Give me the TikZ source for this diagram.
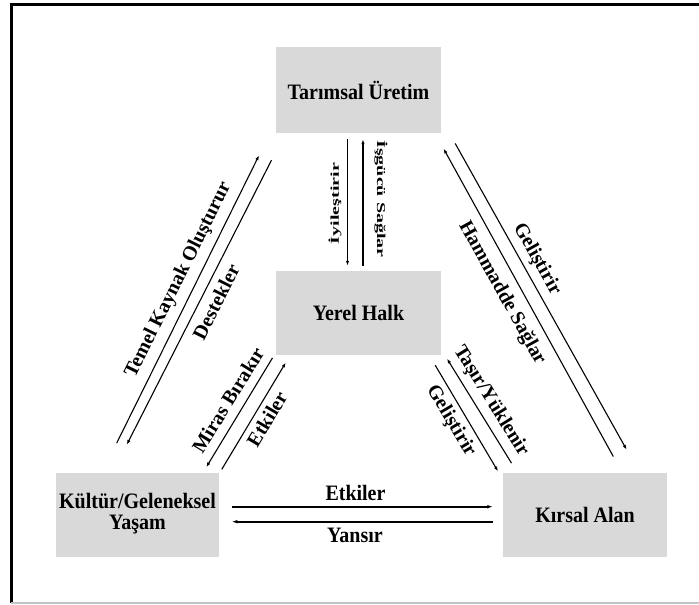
\documentclass[tikz,border=0pt]{standalone}
\usepackage{fontspec}
\usepackage{graphicx}
\setmainfont{Liberation Serif}
\usetikzlibrary{arrows.meta,calc}
\definecolor{boxgray}{HTML}{D9D9D9}
\definecolor{framegray}{HTML}{C4C4C4}
\newcommand{\hx}[1]{\scalebox{1}[1.1]{#1}}
\newcommand{\vx}[1]{\scalebox{1}[0.6]{#1}}
\tikzset{
  box/.style={fill=boxgray, inner sep=0pt, align=center,
    font=\fontsize{20}{20}\selectfont\bfseries},
  lbl/.style={inner sep=0pt, font=\fontsize{20}{20}\selectfont\bfseries},
  conn/.style={line width=1.1pt, -{Latex[length=5pt,width=3.4pt]}},
  hconn/.style={line width=2pt, -{Latex[length=5.5pt,width=3.8pt]}},
}
\begin{document}
\begin{tikzpicture}[x=1pt,y=1pt]
\useasboundingbox (0,0) rectangle (699,-605);
% frame
\draw[line width=2.6pt] (699,-4.7) -- (11.3,-4.7) -- (11.3,-603);
\draw[framegray, line width=1.5pt] (11.3,-603) -- (699,-603);

% boxes
\node[box, minimum width=165pt, minimum height=86pt] (tar) at (358.5,-90) {\hx{Tarımsal Üretim}};
\node[box, minimum width=165pt, minimum height=84pt] (yer) at (358.5,-313) {\hx{Yerel Halk}};
\node[box, minimum width=163pt, minimum height=84pt] (kul) at (137.5,-515)
  {\hx{\begin{tabular}{@{}c@{}}Kültür/Geleneksel\\[-1pt]Yaşam\end{tabular}}};
\node[box, minimum width=164pt, minimum height=84pt] (kir) at (585,-515) {\hx{Kırsal Alan}};

% vertical pair
\draw[conn] ($(tar.south)+(-11,-6)$) -- ($(yer.north)+(-11,5)$);
\draw[conn] ($(yer.north)+(4.5,5)$) -- ($(tar.south)+(4.5,-6)$);
% left outer pair
\draw[conn] ($(kul.north)+(-20.8,29.7)$) -- ($(tar.south west)+(-16.7,-22)$);
\draw[conn] ($(tar.south west)+(-4.3,-27)$) -- ($(kul.north)+(-10.8,28)$);
% left inner pair
\draw[conn] ($(yer.south west)+(-3.3,-2.7)$) -- ($(kul.north east)+(-13,5.5)$);
\draw[conn] ($(kul.north east)+(2.6,3.5)$) -- ($(yer.south west)+(10,-7.3)$);
% right inner pair
\draw[conn] ($(yer.south east)+(-6,-10)$) -- ($(kir.north west)+(-4.7,1.3)$);
\draw[conn] ($(kir.north west)+(8.7,9.7)$) -- ($(yer.south east)+(5.7,-3.3)$);
% right outer pair
\draw[conn] ($(kir.north)+(28.3,16.3)$) -- ($(tar.south east)+(2.3,-15.3)$);
\draw[conn] ($(tar.south east)+(14,-10.3)$) -- ($(kir.north)+(41.7,23)$);
% horizontal pair
\draw[hconn] ($(kul.east)+(12.7,8.3)$) -- ($(kir.west)+(-10,8.3)$);
\draw[hconn] ($(kir.west)+(-10,-6.7)$) -- ($(kul.east)+(12.7,-6.7)$);

% labels
\node[lbl, rotate=63.6] (l1) at (178.5,-280) {Temel Kaynak Oluşturur};
\node[lbl, rotate=63.1] (l2) at (216,-302) {Destekler};
\node[lbl, rotate=58.4] (l3) at (228,-400) {Miras Bırakır};
\node[lbl, rotate=59.1] (l4) at (267,-419) {Etkiler};
\node[lbl, rotate=-59.4] (l5) at (451,-421) {Geliştirir};
\node[lbl, rotate=-58.2] (l6) at (491,-401) {Taşır/Yüklenir};
\node[lbl, rotate=-60.7] (l7) at (537,-259) {Geliştirir};
\node[lbl, rotate=-61.1] (l8) at (502,-293) {Hammadde Sağlar};
\node[lbl, rotate=90] (l9) at (335,-203.5) {\vx{İyileştirir}};
\node[lbl, rotate=-90] (l10) at (381,-199) {\vx{İşgücü Sağlar}};
\node[lbl] (l11) at (355.5,-493) {\hx{Etkiler}};
\node[lbl] (l12) at (355,-535) {\hx{Yansır}};
\end{tikzpicture}
\end{document}
